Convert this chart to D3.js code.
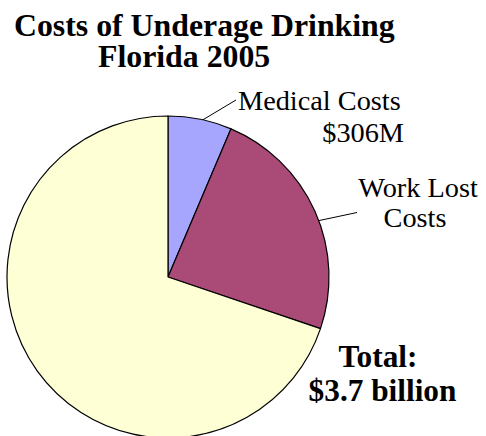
<!DOCTYPE html>
<html>
<head>
<meta charset="utf-8">
<script src="https://cdn.jsdelivr.net/npm/d3@7"></script>
<style>
  body { margin: 0; background: #fff; }
  svg { display: block; }
  svg text { font-family: 'Liberation Serif', 'Times New Roman', serif; }
</style>
</head>
<body>
<svg id="svg" width="486" height="436" font-family="Liberation Serif"></svg>
<script>
// slice shares (percent of total)
const categories = ['Medical Costs', 'Work Lost Costs', 'Other Costs']
const shares = [6.4, 23.8, 69.8]
const colours = ['#a6a6ff', '#a94a77', '#ffffd6']

const titleLines = ['Costs of Underage Drinking', 'Florida 2005']
const medicalLines = ['Medical Costs', '$306M']
const workLines = ['Work Lost', 'Costs']
const totalLines = ['Total:', '$3.7 billion']

const cx = 168
const cy = 277
const radius = 161

const svg = d3.select('#svg')

const pie = d3.pie().sort(null).value(d => d.value)
const arcs = pie(categories.map((c, i) => ({ name: c, value: shares[i], colour: colours[i] })))
const arc = d3.arc().innerRadius(0).outerRadius(radius)

const g = svg.append('g').attr('transform', `translate(${cx}, ${cy})`)

g.selectAll('path')
  .data(arcs)
  .join('path')
  .attr('d', arc)
  .attr('fill', d => d.data.colour)
  .attr('stroke', '#000')
  .attr('stroke-width', 1.2)
  .attr('stroke-linejoin', 'round')

// leader lines from the arc outward
const leaders = [
  { angle: 12.5, to: [236, 100] },
  { angle: 69.5, to: [357, 212.5] }
]
leaders.forEach(l => {
  const a = l.angle * Math.PI / 180
  svg.append('line')
    .attr('x1', cx + radius * Math.sin(a))
    .attr('y1', cy - radius * Math.cos(a))
    .attr('x2', l.to[0])
    .attr('y2', l.to[1])
    .attr('stroke', '#000')
    .attr('stroke-width', 1)
})

// title
svg.append('text')
  .attr('x', 14).attr('y', 36)
  .attr('font-weight', 'bold').attr('font-size', 31.8)
  .text(titleLines[0])
svg.append('text')
  .attr('x', 98).attr('y', 67)
  .attr('font-weight', 'bold').attr('font-size', 31.8)
  .text(titleLines[1])

// slice labels
const label = (txt, x, y, anchor) => svg.append('text')
  .attr('x', x).attr('y', y)
  .attr('text-anchor', anchor)
  .attr('font-size', 28.3)
  .text(txt)

label(medicalLines[0], 238, 110, 'start')
label(medicalLines[1], 404, 142, 'end')
label(workLines[0], 418, 197, 'middle')
label(workLines[1], 415, 227, 'middle')

svg.selectAll('text.total')
  .data(totalLines)
  .join('text')
  .attr('class', 'total')
  .attr('x', (d, i) => i === 0 ? 378 : 382.5)
  .attr('y', (d, i) => i === 0 ? 367 : 400.5)
  .attr('text-anchor', 'middle')
  .attr('font-weight', 'bold').attr('font-size', 31.3)
  .text(d => d)
</script>
</body>
</html>
